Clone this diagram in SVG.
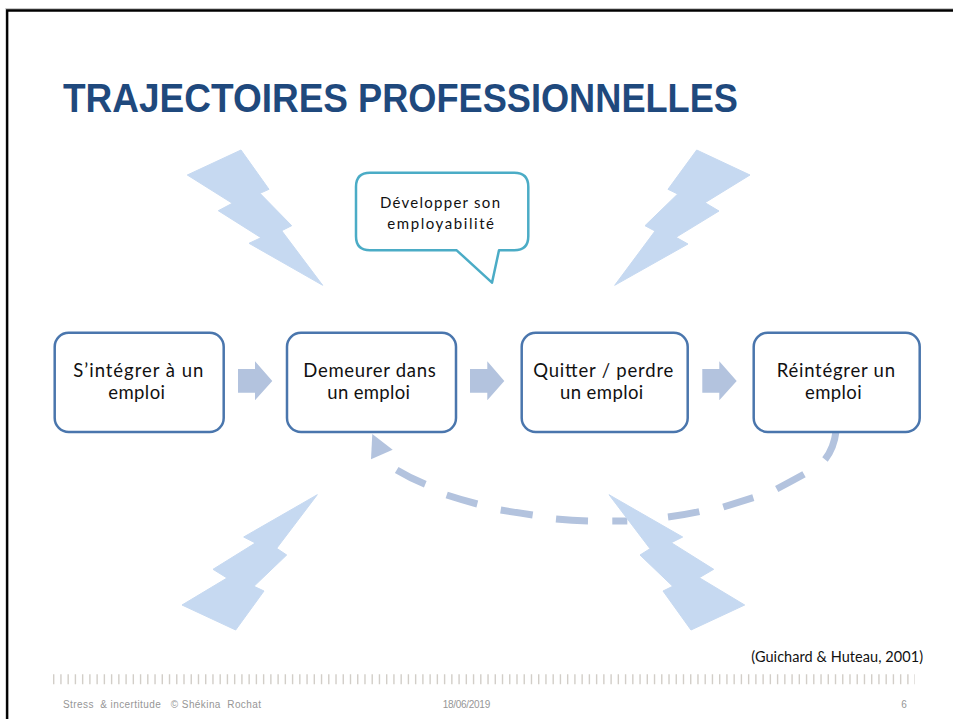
<svg xmlns="http://www.w3.org/2000/svg" width="953" height="719" viewBox="0 0 953 719">
<defs>
<style>
.bolt{fill:#c6d9f1;stroke:#c6d9f1;stroke-width:1;stroke-linejoin:round}
.box{fill:#fff;stroke:#4a76ad;stroke-width:2.5}
.t{font-family:"Lato","Carlito","Liberation Sans",sans-serif;font-size:18.500px;fill:#111}
.s{font-family:"Lato","Carlito","Liberation Sans",sans-serif;font-size:15px;fill:#111}
.f{font-family:"Liberation Sans",Arial,sans-serif;font-size:10px;fill:#969696}
.arrow{fill:#b3c3de}
</style>
</defs>
<rect width="953" height="719" fill="#fff"/>
<path d="M6.500 719V9.300H953" fill="none" stroke="#c8c8c8" stroke-width="2.500"/>
<path d="M7.200 719V10.500H953" fill="none" stroke="#000" stroke-width="2.300"/>
<text id="title" y="112" font-family="Liberation Sans,Arial,sans-serif" font-size="40" font-weight="700" fill="#1f497d"><tspan x="63" textLength="285" lengthAdjust="spacingAndGlyphs">TRAJECTOIRES</tspan><tspan x="358" textLength="380" lengthAdjust="spacingAndGlyphs">PROFESSIONNELLES</tspan></text>
<g id="connectors">
<polygon class="arrow" points="238,369 255,369 255,361.300 272.300,381 255,400.300 255,392.700 238,392.700"/>
<polygon class="arrow" points="470,369 487.300,369 487.300,361.300 504.300,381 487.300,400.300 487.300,392.700 470,392.700"/>
<polygon class="arrow" points="702.300,369 719.300,369 719.300,361.300 736.700,381 719.300,400.300 719.300,392.700 702.300,392.700"/>
<path d="M836 431.500Q834 448 825 459.500M804 474.300Q790 482 776.700,489M753.300 497.700L723.300 507M699.300 511.700Q684 515 668 517M627.300 521H612.300M588 521Q572 520.500 556 519M532.700 515Q516 512.500 500.700 510M477.300 504Q462 500 446.700 495M425.300 484.300Q410 478 396.700 470" fill="none" stroke="#b3c3de" stroke-width="7"/>
<polygon class="arrow" points="372.300,434 392.700,449.700 371,459.300"/>
</g>
<g id="node-1"><rect class="box" x="54.700" y="332.700" width="169" height="99.300" rx="14"/><text class="t" x="73.300" y="377" textLength="130">S’intégrer à un</text><text class="t" x="108.300" y="398.500" textLength="56.700">emploi</text></g>
<g id="node-2"><rect class="box" x="287" y="332.700" width="169" height="99.300" rx="14"/><text class="t" x="303.300" y="377" textLength="132.400">Demeurer dans</text><text class="t" x="327.300" y="398.500" textLength="82.700">un emploi</text></g>
<g id="node-3"><rect class="box" x="521.700" y="332.700" width="166" height="99.300" rx="14"/><text class="t" x="533.300" y="377" textLength="140">Quitter / perdre</text><text class="t" x="560" y="398.500" textLength="83.300">un emploi</text></g>
<g id="node-4"><rect class="box" x="753.700" y="332.700" width="166" height="99.300" rx="14"/><text class="t" x="776.700" y="377" textLength="118.300">Réintégrer un</text><text class="t" x="805" y="398.500" textLength="56.700">emploi</text></g>
<g id="callout"><path d="M370 172.700H514.300Q528.300 172.700 528.300 186.700V236.300Q528.300 250.300 514.300 250.300H499L492 282.700L456.700 250.300H370Q356 250.300 356 236.300V186.700Q356 172.700 370 172.700Z" fill="#fff" stroke="#4bacc6" stroke-width="2.500" stroke-linejoin="round"/><text class="s" x="380" y="207.500" textLength="120">Développer son</text><text class="s" x="387.300" y="229" textLength="106.700">employabilité</text></g>
<g id="bolt-1"><polygon class="bolt" points="187.300,175 241,150 269,189.300 260,193.300 291.700,225.700 281.700,230.700 322.700,285.300 249,243.300 261,237.700 218.300,210.700 232.300,203.300"/></g>
<g id="bolt-2"><polygon class="bolt" points="696.700,150 750,175 705,202.700 719,211 676,237.300 688,244 614.700,285.300 655,231 645,225.700 677.700,194 668,189.300"/></g>
<g id="bolt-3"><polygon class="bolt" points="317.300,494.700 276.700,548.300 286.700,555 254,586.300 264,591 235.700,630 182,605 227,578 213,569.300 255.300,543 243.700,537"/></g>
<g id="bolt-4"><polygon class="bolt" points="609,494.700 682.700,537 671.300,542.700 713.700,569.300 699.300,577.700 744.700,605 691,630 663,591 672.700,586.300 640,555 650,548.700"/></g>
<text x="751.300" y="661.500" font-family="Lato,Carlito,Liberation Sans,sans-serif" font-size="14.500" fill="#111" textLength="171.700">(Guichard &amp; Huteau, 2001)</text>
<line x1="53" y1="679.300" x2="915" y2="679.300" stroke="#d2cec8" stroke-width="10" stroke-dasharray="1.400 5.839"/>
<text class="f" x="63" y="708" textLength="198" xml:space="preserve">Stress  &amp; incertitude   © Shékina  Rochat</text>
<text class="f" x="442.700" y="708" textLength="47.500">18/06/2019</text>
<text class="f" x="901.300" y="708">6</text>
</svg>
